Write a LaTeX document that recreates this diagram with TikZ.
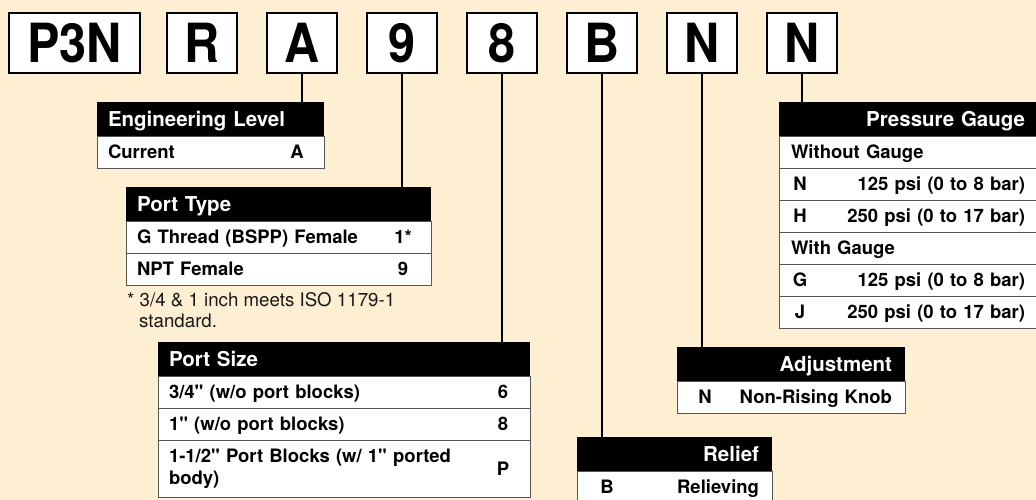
\documentclass[tikz,border=0pt]{standalone}
\usepackage{fontspec}
\setmainfont{TeX Gyre Heros}[Ligatures=TeXOff]
\newfontfamily\codefont[FakeStretch=0.9]{TeX Gyre Heros}
\usepackage{xcolor}
\usepackage{tikz}
\usetikzlibrary{positioning}
\definecolor{cream}{HTML}{FEEFD2}
\definecolor{rulegray}{HTML}{555555}

\begin{document}
\begin{tikzpicture}[
  x=1pt, y=-1pt,
  codebox/.style={
    draw=black, line width=2pt, fill=white,
    minimum width=70pt, minimum height=60pt,
    inner sep=0pt, outer sep=0pt,
    font=\codefont\bfseries\fontsize{54}{54}\selectfont,
    text height=39pt, text depth=0pt
  },
  link/.style={line width=2pt, black},
  tabhead/.style={
    fill=black, text=white, anchor=north west,
    minimum height=34pt, inner xsep=11pt, inner ysep=0pt, outer sep=0pt,
    font=\bfseries\fontsize{20.5}{24}\selectfont,
    text height=14.7pt, text depth=0pt
  },
  tabrow/.style={
    draw=rulegray, line width=0.8pt, fill=white,
    minimum height=32pt, inner xsep=11pt, inner ysep=0pt, outer sep=0pt,
    font=\bfseries\fontsize{18.5}{22}\selectfont,
    text height=13.3pt, text depth=0pt
  },
  codetxt/.style={
    inner sep=0pt, font=\bfseries\fontsize{18.5}{22}\selectfont,
    text height=13.3pt, text depth=0pt
  },
  notetxt/.style={
    anchor=base west, inner sep=0pt, text=black!90,
    font=\fontsize{18.7}{21}\selectfont
  }
]
  \useasboundingbox (0,0) rectangle (1036,500);
  \fill[cream] (0,0) rectangle (1036,500);
  \clip (0,0) rectangle (1036,500);

  % model code
  \node[codebox, minimum width=131pt] (cP3N) at (74.5,43) {P3N};
  \node[codebox, right=27pt of cP3N] (cR) {R};
  \node[codebox, right=30pt of cR] (cA) {A};
  \node[codebox, right=30pt of cA] (c9) {9};
  \node[codebox, right=30pt of c9] (c8) {8};
  \node[codebox, right=30pt of c8] (cB) {B};
  \node[codebox, right=30pt of cB] (cN) {N};
  \node[codebox, right=30pt of cN] (cNN) {N};

  % engineering level
  \node[tabhead, align=left, text width=205pt] (engHead) at (97,102) {Engineering Level};
  \node[tabrow, align=left, text width=205pt, below=0pt of engHead] (engCur) {Current};
  \node[codetxt] (engCurA) at ([xshift=-27pt]engCur.east) {A};

  % port type
  \node[tabhead, align=left, text width=283pt] (typeHead) at (126,187) {Port Type};
  \node[tabrow, align=left, text width=283pt, below=0pt of typeHead] (typeG) {G Thread (BSPP) Female};
  \node[tabrow, align=left, text width=283pt, below=0pt of typeG] (typeNPT) {NPT Female};
  \node[codetxt] (typeG1) at ([xshift=-28pt]typeG.east) {1*};
  \node[codetxt] (typeNPT9) at ([xshift=-28pt]typeNPT.east) {9};

  \node[notetxt] (noteA) at (127,306) {* 3/4 \& 1 inch meets ISO 1179-1};
  \node[notetxt] (noteB) at (139,327) {standard.};

  % port size
  \node[tabhead, align=left, text width=350pt] (sizeHead) at (158,342) {Port Size};
  \node[tabrow, align=left, text width=350pt, below=0pt of sizeHead] (size6) {3/4" (w/o port blocks)};
  \node[tabrow, align=left, text width=350pt, below=0pt of size6] (size8) {1" (w/o port blocks)};
  \node[tabrow, align=left, text width=350pt, minimum height=57pt,
    text height={}, text depth={}, below=0pt of size8] (sizeP)
    {1-1/2" Port Blocks (w/ 1" ported\\body)};
  \node[codetxt] (size6c) at ([xshift=-27pt]size6.east) {6};
  \node[codetxt] (size8c) at ([xshift=-27pt]size8.east) {8};
  \node[codetxt] (sizePc) at ([xshift=-27pt]sizeP.east) {P};

  % relief
  \node[tabhead, align=right, inner xsep=13pt, text width=169pt] (reliefHead) at (577,437) {Relief};
  \node[tabrow, align=right, inner xsep=13pt, text width=169pt, below=0pt of reliefHead] (reliefB) {Relieving};
  \node[codetxt] (reliefBc) at ([xshift=30pt]reliefB.west) {B};

  % adjustment
  \node[tabhead, align=right, inner xsep=13pt, text width=202pt] (adjHead) at (677,347) {Adjustment};
  \node[tabrow, align=right, inner xsep=13pt, text width=202pt, below=0pt of adjHead] (adjN) {Non-Rising Knob};
  \node[codetxt] (adjNc) at ([xshift=28pt]adjN.west) {N};

  % pressure gauge
  \node[tabhead, align=right, inner xsep=13pt, text width=233pt] (gaugeHead) at (779,102) {Pressure Gauge};
  \node[tabrow, align=left, inner xsep=12pt, text width=235pt, below=0pt of gaugeHead] (gaugeWo) {Without Gauge};
  \node[tabrow, align=right, inner xsep=13pt, text width=233pt, below=0pt of gaugeWo] (gaugeN) {125 psi (0 to 8 bar)};
  \node[tabrow, align=right, inner xsep=13pt, text width=233pt, below=0pt of gaugeN] (gaugeH) {250 psi (0 to 17 bar)};
  \node[tabrow, align=left, inner xsep=12pt, text width=235pt, below=0pt of gaugeH] (gaugeW) {With Gauge};
  \node[tabrow, align=right, inner xsep=13pt, text width=233pt, below=0pt of gaugeW] (gaugeG) {125 psi (0 to 8 bar)};
  \node[tabrow, align=right, inner xsep=13pt, text width=233pt, below=0pt of gaugeG] (gaugeJ) {250 psi (0 to 17 bar)};
  \foreach \r/\c in {gaugeN/N, gaugeH/H, gaugeG/G, gaugeJ/J}
    \node[codetxt] (\r c) at ([xshift=21pt]\r.west) {\c};

  % connectors
  \foreach \a/\b in {cA/engHead, c9/typeHead, c8/sizeHead, cB/reliefHead, cN/adjHead, cNN/gaugeHead}
    \draw[link] (\a.south) -- (\a.south |- \b.north);
\end{tikzpicture}
\end{document}
